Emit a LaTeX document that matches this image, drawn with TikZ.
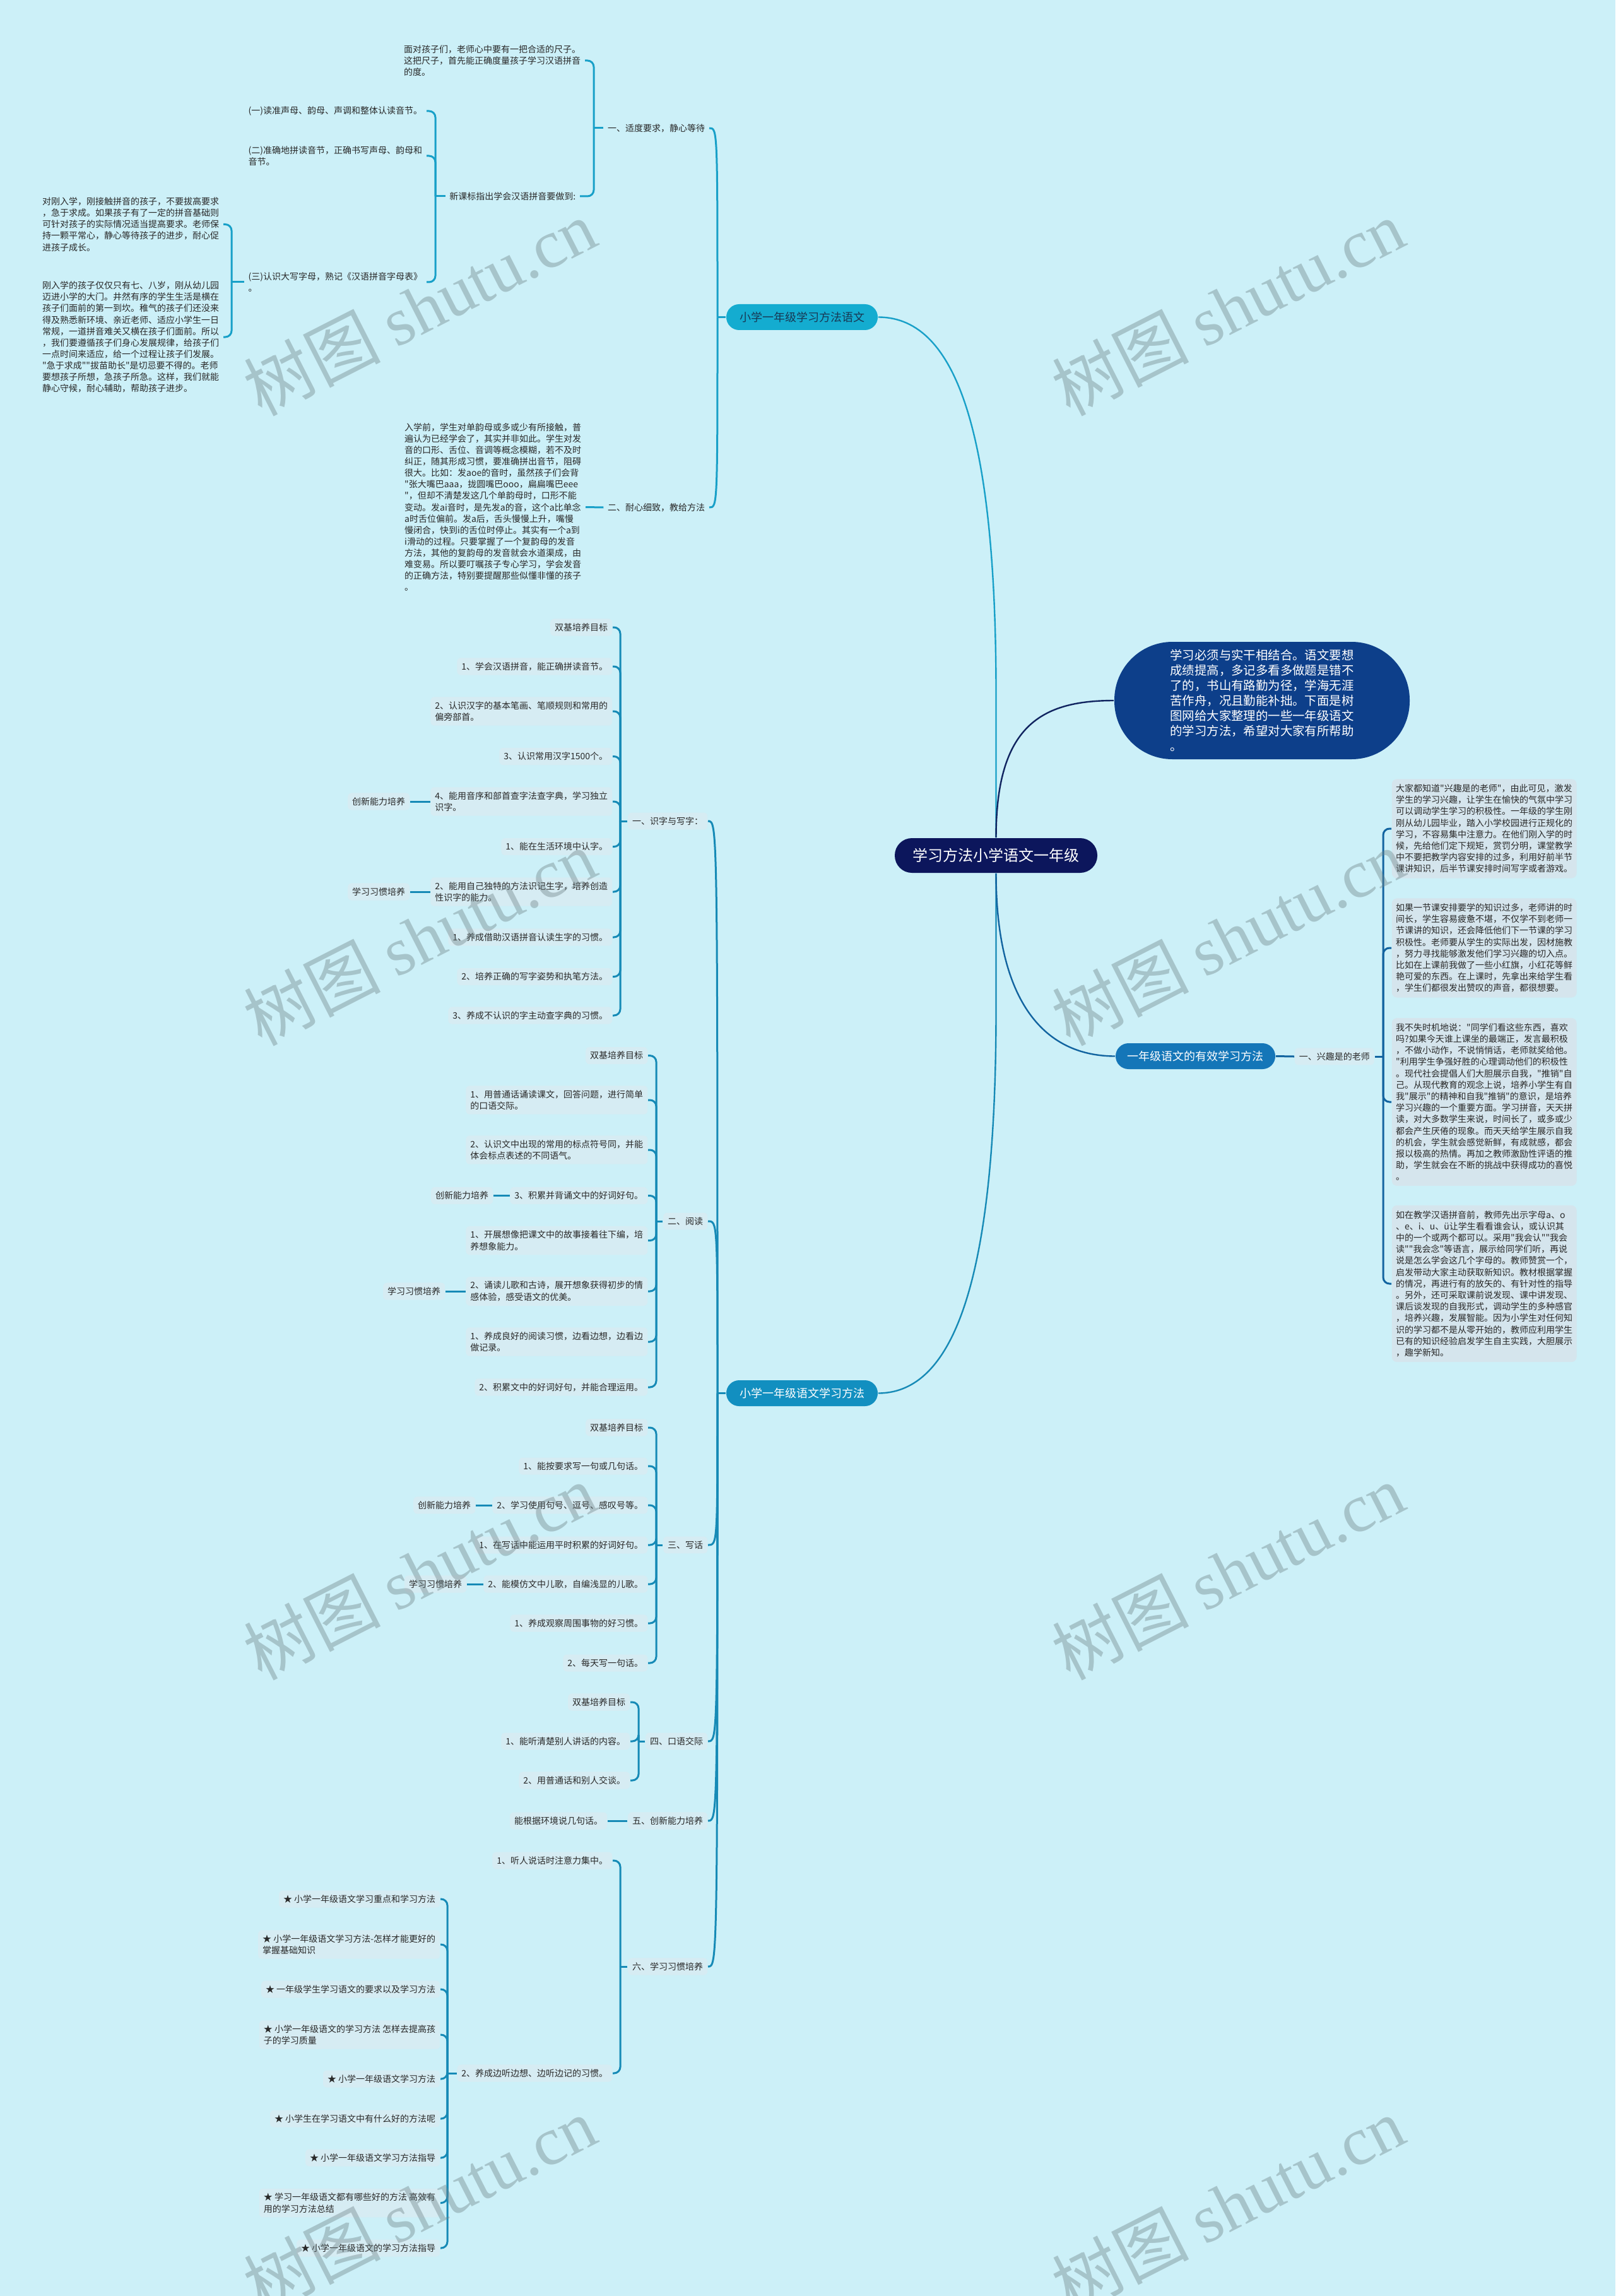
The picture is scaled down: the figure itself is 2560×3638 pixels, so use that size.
\documentclass[tikz,border=0pt]{standalone}
\usepackage{fontspec}
\setmainfont{Noto Sans CJK SC}[Ligatures=TeXOff]
\newfontfamily\wmlatin{Liberation Serif}
\usetikzlibrary{calc}
\definecolor{bg}{RGB}{204,240,248}
\definecolor{nodefill}{RGB}{214,236,243}
\definecolor{parafill}{RGB}{213,229,237}
\definecolor{txt}{RGB}{40,40,40}
\definecolor{lineA}{RGB}{24,160,200}
\definecolor{lineB}{RGB}{22,138,182}
\definecolor{lineC}{RGB}{18,100,160}
\definecolor{lineE}{RGB}{16,36,96}
\definecolor{rootc}{RGB}{12,22,92}
\definecolor{ellc}{RGB}{13,63,138}
\definecolor{lvlA}{RGB}{20,172,208}
\definecolor{lvlAtext}{RGB}{24,56,84}
\definecolor{lvlB}{RGB}{18,143,192}
\definecolor{lvlC}{RGB}{20,118,184}
\definecolor{wmgray}{RGB}{110,130,135}
\tikzset{
 plain/.style={inner xsep=1.5pt, inner ysep=1pt, font=\fontsize{3.5pt}{4.53pt}\selectfont, text=txt, align=left},
 item/.style={fill=nodefill, rounded corners=1.5pt, inner xsep=1.75pt, inner ysep=1.75pt, font=\fontsize{3.5pt}{4.6pt}\selectfont, text=txt, align=left},
 para/.style={fill=parafill, rounded corners=2pt, inner xsep=1.6pt, inner ysep=2.05pt, font=\fontsize{3.5pt}{4.55pt}\selectfont, text=txt, align=left},
 lvl/.style={rounded corners=5.1pt, minimum width=60pt, minimum height=10.25pt, inner sep=0pt, font=\fontsize{4.5pt}{5pt}\selectfont},
 conA/.style={draw=lineA, line width=0.75pt, rounded corners=2.5pt},
 conB/.style={draw=lineB, line width=0.75pt, rounded corners=2.5pt},
 conC/.style={draw=lineC, line width=0.75pt, rounded corners=2.5pt},
 bigcurve/.style={line width=0.6pt},
 wm/.style={rotate=27, text=wmgray, text opacity=0.4, font=\fontsize{27pt}{28pt}\selectfont, inner sep=0pt},
}
\begin{document}
\begin{tikzpicture}[x=0.25pt,y=-0.25pt]
\useasboundingbox (0,0) rectangle (2560,3638);
\fill[bg] (0,0) rectangle (2560,3638);

% ---------- root and level 1 ----------
\node[fill=rootc, text=white, rounded corners=6.8pt, minimum width=80.25pt, minimum height=13.75pt, inner sep=0pt, font=\fontsize{6pt}{7pt}\selectfont] (root) at (1578.5,1355.5) {学习方法小学语文一年级};
\node[fill=ellc, text=white, rounded corners=23pt, minimum width=117pt, minimum height=46.5pt, inner sep=0pt, align=left, font=\fontsize{4.85pt}{6pt}\selectfont] (E) at (2000,1110) {学习必须与实干相结合。语文要想\\成绩提高，多记多看多做题是错不\\了的，书山有路勤为径，学海无涯\\苦作舟，况且勤能补拙。下面是树\\图网给大家整理的一些一年级语文\\的学习方法，希望对大家有所帮助\\。};
\node[lvl, fill=lvlA, text=lvlAtext] (LA) at (1271,502.5) {小学一年级学习方法语文};
\node[lvl, fill=lvlB, text=white] (LB) at (1271,2207.5) {小学一年级语文学习方法};
\node[lvl, fill=lvlC, text=white, minimum width=63.25pt] (LC) at (1894.5,1673.5) {一年级语文的有效学习方法};

\coordinate (rA) at (1578.5,1100);
\coordinate (rB) at (1578.5,1600);
\draw[bigcurve, draw=lineA] (root.north) -- (rA) .. controls (1578.5,700) and (1520,502.5) .. (LA.east);
\draw[bigcurve, draw=lineB] (root.south) -- (rB) .. controls (1578.5,2000) and (1520,2207.5) .. (LB.east);
\draw[bigcurve, draw=lineE] (root.north) .. controls (1578.5,1150) and (1650,1110) .. (E.west);
\draw[bigcurve, draw=lineC] (root.south) .. controls (1578.5,1580) and (1650,1673.5) .. (LC.west);

% ---------- section A ----------
\node[plain, anchor=east] (A1) at (1124,203) {一、适度要求，静心等待};
\node[plain, anchor=east] (A2) at (1124,804) {二、耐心细致，教给方法};
\node[plain, anchor=east] (A1a) at (927,96) {面对孩子们，老师心中要有一把合适的尺子。\\这把尺子，首先能正确度量孩子学习汉语拼音\\的度。};
\node[plain, anchor=east] (A1b) at (919,311) {新课标指出学会汉语拼音要做到:};
\node[plain, anchor=east] (A1b1) at (676,176) {(一)读准声母、韵母、声调和整体认读音节。};
\node[plain, anchor=east] (A1b2) at (676,247) {(二)准确地拼读音节，正确书写声母、韵母和\\音节。};
\node[plain, anchor=east] (A1b3) at (676,447) {(三)认识大写字母，熟记《汉语拼音字母表》\\。};
\node[plain, anchor=east] (A1b3a) at (354,355.5) {对刚入学，刚接触拼音的孩子，不要拔高要求\\，急于求成。如果孩子有了一定的拼音基础则\\可针对孩子的实际情况适当提高要求。老师保\\持一颗平常心，静心等待孩子的进步，耐心促\\进孩子成长。};
\node[plain, anchor=east] (A1b3b) at (354,534) {刚入学的孩子仅仅只有七、八岁，刚从幼儿园\\迈进小学的大门。井然有序的学生生活是横在\\孩子们面前的第一到坎。稚气的孩子们还没来\\得及熟悉新环境、亲近老师、适应小学生一日\\常规，一道拼音难关又横在孩子们面前。所以\\，我们要遵循孩子们身心发展规律，给孩子们\\一点时间来适应，给一个过程让孩子们发展。\\"急于求成""拔苗助长"是切忌要不得的。老师\\要想孩子所想，急孩子所急。这样，我们就能\\静心守候，耐心辅助，帮助孩子进步。};
\node[plain, anchor=east] (A2a) at (928,803.5) {入学前，学生对单韵母或多或少有所接触，普\\遍认为已经学会了，其实并非如此。学生对发\\音的口形、舌位、音调等概念模糊，若不及时\\纠正，随其形成习惯，要准确拼出音节，阻碍\\很大。比如：发aoe的音时，虽然孩子们会背\\"张大嘴巴aaa，拢圆嘴巴ooo，扁扁嘴巴eee\\"，但却不清楚发这几个单韵母时，口形不能\\变动。发ai音时，是先发a的音，这个a比单念\\a时舌位偏前。发a后，舌头慢慢上升，嘴慢\\慢闭合，快到i的舌位时停止。其实有一个a到\\i滑动的过程。只要掌握了一个复韵母的发音\\方法，其他的复韵母的发音就会水道渠成，由\\难变易。所以要叮嘱孩子专心学习，学会发音\\的正确方法，特别要提醒那些似懂非懂的孩子\\。};

\coordinate (jA) at (1137,502.5);
\coordinate (jA1) at (941,203);
\coordinate (jA1b) at (690,311);
\coordinate (jA1b3) at (367,447);
\draw[conA] (LA.west) -- (jA);
\draw[conA] (jA) .. controls (jA |- A1.east) and (jA |- A1.east) .. (A1.east);
\draw[conA] (jA) .. controls (jA |- A2.east) and (jA |- A2.east) .. (A2.east);
\draw[conA] (A1.west) -- (jA1);
\draw[conA] (jA1) |- (A1a.east);
\draw[conA] (jA1) |- (A1b.east);
\draw[conA] (A1b.west) -- (jA1b);
\draw[conA] (jA1b) |- (A1b1.east);
\draw[conA] (jA1b) |- (A1b2.east);
\draw[conA] (jA1b) |- (A1b3.east);
\draw[conA] (A1b3.west) -- (jA1b3);
\draw[conA] (jA1b3) |- (A1b3a.east);
\draw[conA] (jA1b3) |- (A1b3b.east);
\draw[conA] (A2.west) -- (A2a.east);

% ---------- section B ----------
\coordinate (jB) at (1137,2207.5);
\draw[conB] (LB.west) -- (jB);

% B1
\node[item, anchor=east] (B1) at (1122,1301) {一、识字与写字：};
\node[item, anchor=east] (B1a) at (971,994) {双基培养目标};
\node[item, anchor=east] (B1b) at (971,1056) {1、学会汉语拼音，能正确拼读音节。};
\node[item, anchor=east] (B1c) at (971,1127) {2、认识汉字的基本笔画、笔顺规则和常用的\\偏旁部首。};
\node[item, anchor=east] (B1d) at (971,1198.5) {3、认识常用汉字1500个。};
\node[item, anchor=east] (B1e) at (971,1270) {4、能用音序和部首查字法查字典，学习独立\\识字。};
\node[item, anchor=east] (B1f) at (971,1341.6) {1、能在生活环境中认字。};
\node[item, anchor=east] (B1g) at (971,1413) {2、能用自己独特的方法识记生字，培养创造\\性识字的能力。};
\node[item, anchor=east] (B1h) at (971,1485) {1、养成借助汉语拼音认读生字的习惯。};
\node[item, anchor=east] (B1i) at (971,1547.6) {2、培养正确的写字姿势和执笔方法。};
\node[item, anchor=east] (B1j) at (971,1609) {3、养成不认识的字主动查字典的习惯。};
\node[item, anchor=east] (B1e1) at (650,1270) {创新能力培养};
\node[item, anchor=east] (B1g1) at (650,1413) {学习习惯培养};
\coordinate (jB1) at (983,1301);
\draw[conB] (jB) .. controls (jB |- B1.east) and (jB |- B1.east) .. (B1.east);
\draw[conB] (B1.west) -- (jB1);
\foreach \c in {B1a,B1b,B1c,B1d,B1e,B1f,B1g,B1h,B1i,B1j}{\draw[conB] (jB1) |- (\c.east);}
\draw[conB] (B1e.west) -- (B1e1.east);
\draw[conB] (B1g.west) -- (B1g1.east);

% B2
\node[item, anchor=east] (B2) at (1122,1935) {二、阅读};
\node[item, anchor=east] (B2a) at (1027,1672.6) {双基培养目标};
\node[item, anchor=east] (B2b) at (1027,1743) {1、用普通话诵读课文，回答问题，进行简单\\的口语交际。};
\node[item, anchor=east] (B2c) at (1027,1822) {2、认识文中出现的常用的标点符号同，并能\\体会标点表述的不同语气。};
\node[item, anchor=east] (B2d) at (1027,1894.5) {3、积累并背诵文中的好词好句。};
\node[item, anchor=east] (B2e) at (1027,1965.6) {1、开展想像把课文中的故事接着往下编，培\\养想象能力。};
\node[item, anchor=east] (B2f) at (1027,2046) {2、诵读儿歌和古诗，展开想象获得初步的情\\感体验，感受语文的优美。};
\node[item, anchor=east] (B2g) at (1027,2126) {1、养成良好的阅读习惯，边看边想，边看边\\做记录。};
\node[item, anchor=east] (B2h) at (1027,2198) {2、积累文中的好词好句，并能合理运用。};
\node[item, anchor=east] (B2d1) at (782,1894.5) {创新能力培养};
\node[item, anchor=east] (B2f1) at (706,2046) {学习习惯培养};
\coordinate (jB2) at (1040,1935);
\draw[conB] (jB) .. controls (jB |- B2.east) and (jB |- B2.east) .. (B2.east);
\draw[conB] (B2.west) -- (jB2);
\foreach \c in {B2a,B2b,B2c,B2d,B2e,B2f,B2g,B2h}{\draw[conB] (jB2) |- (\c.east);}
\draw[conB] (B2d.west) -- (B2d1.east);
\draw[conB] (B2f.west) -- (B2f1.east);

% B3
\node[item, anchor=east] (B3) at (1122,2448) {三、写话};
\node[item, anchor=east] (B3a) at (1027,2262) {双基培养目标};
\node[item, anchor=east] (B3b) at (1027,2323) {1、能按要求写一句或几句话。};
\node[item, anchor=east] (B3c) at (1027,2385) {2、学习使用句号、逗号、感叹号等。};
\node[item, anchor=east] (B3d) at (1027,2448) {1、在写话中能运用平时积累的好词好句。};
\node[item, anchor=east] (B3e) at (1027,2510) {2、能模仿文中儿歌，自编浅显的儿歌。};
\node[item, anchor=east] (B3f) at (1027,2572) {1、养成观察周围事物的好习惯。};
\node[item, anchor=east] (B3g) at (1027,2635) {2、每天写一句话。};
\node[item, anchor=east] (B3c1) at (754,2385) {创新能力培养};
\node[item, anchor=east] (B3e1) at (740,2510) {学习习惯培养};
\coordinate (jB3) at (1040,2448);
\draw[conB] (jB) .. controls (jB |- B3.east) and (jB |- B3.east) .. (B3.east);
\draw[conB] (B3.west) -- (jB3);
\foreach \c in {B3a,B3b,B3c,B3d,B3e,B3f,B3g}{\draw[conB] (jB3) |- (\c.east);}
\draw[conB] (B3c.west) -- (B3c1.east);
\draw[conB] (B3e.west) -- (B3e1.east);

% B4
\node[item, anchor=east] (B4) at (1122,2759) {四、口语交际};
\node[item, anchor=east] (B4a) at (999,2697) {双基培养目标};
\node[item, anchor=east] (B4b) at (999,2759) {1、能听清楚别人讲话的内容。};
\node[item, anchor=east] (B4c) at (999,2821) {2、用普通话和别人交谈。};
\coordinate (jB4) at (1012,2759);
\draw[conB] (jB) .. controls (jB |- B4.east) and (jB |- B4.east) .. (B4.east);
\draw[conB] (B4.west) -- (jB4);
\foreach \c in {B4a,B4b,B4c}{\draw[conB] (jB4) |- (\c.east);}

% B5
\node[item, anchor=east] (B5) at (1122,2885) {五、创新能力培养};
\node[item, anchor=east] (B5a) at (963,2885) {能根据环境说几句话。};
\draw[conB] (jB) .. controls (jB |- B5.east) and (jB |- B5.east) .. (B5.east);
\draw[conB] (B5.west) -- (B5a.east);

% B6
\node[item, anchor=east] (B6) at (1122,3116) {六、学习习惯培养};
\node[item, anchor=east] (B6a) at (971,2948) {1、听人说话时注意力集中。};
\node[item, anchor=east] (B6b) at (971,3285) {2、养成边听边想、边听边记的习惯。};
\node[item, anchor=east] (S1) at (698,3009) {★ 小学一年级语文学习重点和学习方法};
\node[item, anchor=east] (S2) at (698,3081) {★ 小学一年级语文学习方法-怎样才能更好的\\掌握基础知识};
\node[item, anchor=east] (S3) at (698,3152) {★ 一年级学生学习语文的要求以及学习方法};
\node[item, anchor=east] (S4) at (698,3224) {★ 小学一年级语文的学习方法 怎样去提高孩\\子的学习质量};
\node[item, anchor=east] (S5) at (698,3294) {★ 小学一年级语文学习方法};
\node[item, anchor=east] (S6) at (698,3357) {★ 小学生在学习语文中有什么好的方法呢};
\node[item, anchor=east] (S7) at (698,3419) {★ 小学一年级语文学习方法指导};
\node[item, anchor=east] (S8) at (698,3490.5) {★ 学习一年级语文都有哪些好的方法 高效有\\用的学习方法总结};
\node[item, anchor=east] (S9) at (698,3562) {★ 小学一年级语文的学习方法指导};
\coordinate (jB6) at (983,3116);
\coordinate (jB6b) at (709,3285);
\draw[conB] (jB) .. controls (jB |- B6.east) and (jB |- B6.east) .. (B6.east);
\draw[conB] (B6.west) -- (jB6);
\foreach \c in {B6a,B6b}{\draw[conB] (jB6) |- (\c.east);}
\draw[conB] (B6b.west) -- (jB6b);
\foreach \c in {S1,S2,S3,S4,S5,S6,S7,S8,S9}{\draw[conB] (jB6b) |- (\c.east);}

% ---------- section C ----------
\node[item, anchor=west] (C1) at (2051,1674) {一、兴趣是的老师};
\node[para, anchor=west] (P1) at (2205,1313) {大家都知道"兴趣是的老师"，由此可见，激发\\学生的学习兴趣，让学生在愉快的气氛中学习\\可以调动学生学习的积极性。一年级的学生刚\\刚从幼儿园毕业，踏入小学校园进行正规化的\\学习，不容易集中注意力。在他们刚入学的时\\候，先给他们定下规矩，赏罚分明，课堂教学\\中不要把教学内容安排的过多，利用好前半节\\课讲知识，后半节课安排时间写字或者游戏。};
\node[para, anchor=west] (P2) at (2205,1502) {如果一节课安排要学的知识过多，老师讲的时\\间长，学生容易疲惫不堪，不仅学不到老师一\\节课讲的知识，还会降低他们下一节课的学习\\积极性。老师要从学生的实际出发，因材施教\\，努力寻找能够激发他们学习兴趣的切入点。\\比如在上课前我做了一些小红旗，小红花等鲜\\艳可爱的东西。在上课时，先拿出来给学生看\\，学生们都很发出赞叹的声音，都很想要。};
\node[para, anchor=west] (P3) at (2205,1746) {我不失时机地说："同学们看这些东西，喜欢\\吗?如果今天谁上课坐的最端正，发言最积极\\，不做小动作，不说悄悄话，老师就奖给他。\\"利用学生争强好胜的心理调动他们的积极性\\。现代社会提倡人们大胆展示自我，"推销"自\\己。从现代教育的观念上说，培养小学生有自\\我"展示"的精神和自我"推销"的意识，是培养\\学习兴趣的一个重要方面。学习拼音，天天拼\\读，对大多数学生来说，时间长了，或多或少\\都会产生厌倦的现象。而天天给学生展示自我\\的机会，学生就会感觉新鲜，有成就感，都会\\报以极高的热情。再加之教师激励性评语的推\\助，学生就会在不断的挑战中获得成功的喜悦\\。};
\node[para, anchor=west] (P4) at (2205,2034) {如在教学汉语拼音前，教师先出示字母a、o\\、e、i、u、ü让学生看看谁会认，或认识其\\中的一个或两个都可以。采用"我会认""我会\\读""我会念"等语言，展示给同学们听，再说\\说是怎么学会这几个字母的。教师赞赏一个，\\启发带动大家主动获取新知识。教材根据掌握\\的情况，再进行有的放矢的、有针对性的指导\\。另外，还可采取课前说发现、课中讲发现、\\课后谈发现的自我形式，调动学生的多种感官\\，培养兴趣，发展智能。因为小学生对任何知\\识的学习都不是从零开始的，教师应利用学生\\已有的知识经验启发学生自主实践，大胆展示\\，趣学新知。};
\coordinate (jC1) at (2192,1674);
\draw[conC] (LC.east) -- (C1.west);
\draw[conC] (C1.east) -- (jC1);
\foreach \c in {P1,P2,P3,P4}{\draw[conC] (jC1) |- (\c.west);}

% ---------- watermarks ----------
\foreach \wx/\wy in {665/487, 1946/487, 665/1485, 1946/1485, 665/2490, 1946/2490, 665/3493, 1946/3493}{
 \node[wm] at (\wx,\wy) {树图 {\wmlatin shutu.cn}};
}
\end{tikzpicture}
\end{document}
